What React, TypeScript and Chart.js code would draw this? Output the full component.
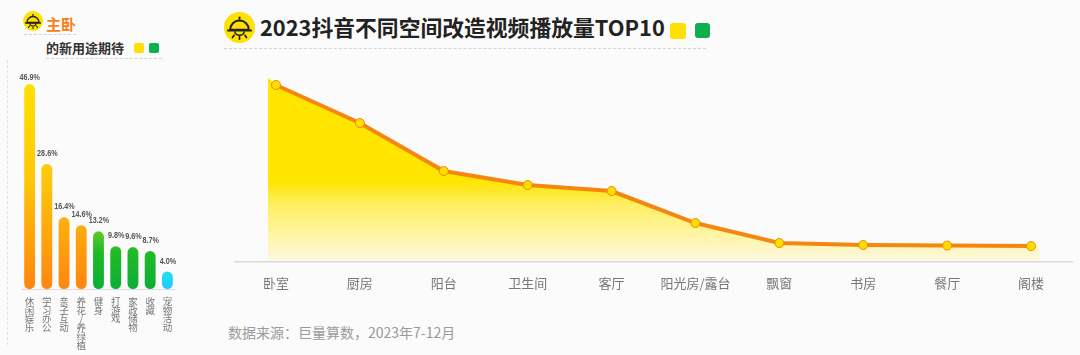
import React, { useEffect, useRef } from "react";
import { Chart, registerables } from "chart.js";

Chart.register(...registerables);

const CJK = '"Noto Sans CJK SC", "Noto Sans", sans-serif';

const useCategories = ["休闲娱乐", "学习办公", "亲子互动", "养花/养绿植", "健身", "打游戏", "家政储物", "收藏", "宠物活动"];
const useValues = [46.9, 28.6, 16.4, 14.6, 13.2, 9.8, 9.6, 8.7, 4.0];
const useGroups = ["warm", "warm", "warm", "warm", "green", "green", "green", "green", "cyan"];

const roomCategories = ["卧室", "厨房", "阳台", "卫生间", "客厅", "阳光房/露台", "飘窗", "书房", "餐厅", "阁楼"];
const roomValues = [100, 78.5, 51.4, 43.5, 40.1, 22, 10.7, 9.6, 9.3, 9];
const areaStart = { x: -0.095, y: 104 };
const areaEnd = { x: 9.1, y: 9 };

const valueLabelPlugin = {
  id: "valueLabels",
  afterDatasetsDraw(chart: any) {
    const { ctx } = chart;
    const meta = chart.getDatasetMeta(0);
    ctx.font = 'bold 9.5px "Liberation Sans", sans-serif';
    ctx.fillStyle = "#555";
    ctx.textAlign = "center";
    ctx.textBaseline = "middle";
    meta.data.forEach((bar: any, i: number) => {
      const lift = i === 0 ? 7 : 10.5;
      ctx.save();
      ctx.translate(bar.x + (i === 0 ? 0 : 0.5), bar.y - lift);
      ctx.scale(0.76, 1);
      ctx.fillText(useValues[i].toFixed(1) + "%", 0, 0);
      ctx.restore();
    });
  },
};

function barFill(c: any) {
  const { chart, dataIndex } = c;
  const area = chart.chartArea;
  if (!area) return "#FFC000";
  const y = chart.scales.y;
  const group = useGroups[dataIndex];
  if (group === "warm") {
    const g = chart.ctx.createLinearGradient(0, y.getPixelForValue(46.9), 0, y.getPixelForValue(0));
    g.addColorStop(0, "#FFE000");
    g.addColorStop(0.45, "#FFC80A");
    g.addColorStop(1, "#FF850F");
    return g;
  }
  if (group === "green") {
    const g = chart.ctx.createLinearGradient(0, y.getPixelForValue(13.2), 0, y.getPixelForValue(0));
    g.addColorStop(0, "#62C82A");
    g.addColorStop(0.35, "#22BA25");
    g.addColorStop(1, "#0CAE35");
    return g;
  }
  const g = chart.ctx.createLinearGradient(0, y.getPixelForValue(4), 0, y.getPixelForValue(0));
  g.addColorStop(0, "#22E0EE");
  g.addColorStop(1, "#1FC8FF");
  return g;
}

function areaFill(c: any) {
  const { chart } = c;
  const a = chart.chartArea;
  if (!a) return "#FFE500";
  const g = chart.ctx.createLinearGradient(0, a.top, 0, a.bottom);
  g.addColorStop(0, "#FFE500");
  g.addColorStop(0.6, "#FFE500");
  g.addColorStop(0.72, "#FFEF66");
  g.addColorStop(0.87, "#FFF5A5");
  g.addColorStop(1, "#FBF8E2");
  return g;
}

function Lamp({ x, y, size }: { x: number; y: number; size: number }) {
  return (
    <svg
      width={size}
      height={size}
      viewBox="0 0 40 40"
      style={{ position: "absolute", left: x, top: y }}
    >
      <circle cx="20" cy="20" r="20" fill="#FFE100" />
      <path d="M20 6v4" stroke="#222" strokeWidth="2.4" />
      <path d="M8 23a12 12 0 0 1 24 0z" fill="none" stroke="#222" strokeWidth="2.6" strokeLinejoin="round" />
      <path d="M5 24h30" stroke="#222" strokeWidth="2.6" strokeLinecap="round" />
      <path d="M14 25a6 5 0 0 0 12 0" fill="none" stroke="#222" strokeWidth="2.2" />
      <path d="M20 32v3M13 30l-2 3M27 30l2 3" stroke="#222" strokeWidth="2.2" strokeLinecap="round" />
    </svg>
  );
}

function Box(props: { x: number; y: number; w: number; h: number; bg: string; r?: number }) {
  return (
    <div
      style={{
        position: "absolute",
        left: props.x,
        top: props.y,
        width: props.w,
        height: props.h,
        background: props.bg,
        borderRadius: props.r ?? 2,
      }}
    />
  );
}

function Dash(props: { x: number; y: number; w: number; color?: string }) {
  return (
    <div
      style={{
        position: "absolute",
        left: props.x,
        top: props.y,
        width: props.w,
        height: 0,
        borderTop: `1px dashed ${props.color ?? "#d4d4d4"}`,
      }}
    />
  );
}

function Label(props: { x: number; y: number; size: number; color: string; weight?: number; text: string }) {
  return (
    <div
      style={{
        position: "absolute",
        left: props.x,
        top: props.y,
        fontFamily: CJK,
        fontSize: props.size,
        fontWeight: props.weight ?? 400,
        color: props.color,
        lineHeight: "1",
        whiteSpace: "nowrap",
      }}
    >
      {props.text}
    </div>
  );
}

export default function App() {
  const leftRef = useRef<HTMLCanvasElement>(null);
  const rightRef = useRef<HTMLCanvasElement>(null);

  useEffect(() => {
    const left = new Chart(leftRef.current as HTMLCanvasElement, {
      type: "bar",
      data: {
        labels: useCategories,
        datasets: [
          {
            data: useValues,
            backgroundColor: barFill,
            borderRadius: 6,
            borderSkipped: false,
            barPercentage: 0.63,
            categoryPercentage: 1,
          },
        ],
      },
      options: {
        animation: false,
        responsive: false,
        maintainAspectRatio: false,
        layout: { padding: { left: 8, right: 0, top: 0, bottom: 0 }, autoPadding: false },
        plugins: { legend: { display: false }, tooltip: { enabled: false } },
        scales: {
          x: {
            grid: { display: false, drawTicks: false },
            border: { color: "#dddddd" },
            afterFit(s: any) {
              s.height = 61;
              s.paddingLeft = 0;
              s.paddingRight = 0;
            },
            ticks: {
              autoSkip: false,
              maxRotation: 0,
              minRotation: 0,
              padding: 8,
              color: "#777",
              font: { family: CJK, size: 9.5, lineHeight: 0.92 },
              callback(v: any) {
                return Array.from(useCategories[v as number]);
              },
            },
          },
          y: { display: false, min: 0, max: 51.26 },
        },
      },
      plugins: [valueLabelPlugin],
    } as any);

    const right = new Chart(rightRef.current as HTMLCanvasElement, {
      type: "line",
      data: {
        datasets: [
          {
            data: roomValues.map((y, x) => ({ x, y })),
            borderColor: "#F58710",
            borderWidth: 4,
            pointRadius: 4.5,
            pointBorderWidth: 1,
            pointBackgroundColor: "#FFDD00",
            pointBorderColor: "#F08A00",
            tension: 0,
            fill: false,
            order: 0,
          },
          {
            data: [areaStart, ...roomValues.map((y, x) => ({ x, y })), areaEnd],
            borderWidth: 0,
            pointRadius: 0,
            tension: 0,
            fill: { value: 1 },
            backgroundColor: areaFill,
            order: 1,
          },
        ],
      },
      options: {
        animation: false,
        responsive: false,
        maintainAspectRatio: false,
        layout: { padding: 0, autoPadding: false },
        plugins: { legend: { display: false }, tooltip: { enabled: false } },
        scales: {
          x: {
            type: "linear",
            min: -0.5,
            max: 9.5,
            grid: { display: false, drawTicks: false },
            border: { color: "#dcdcdc", width: 1.5 },
            afterBuildTicks(s: any) {
              s.ticks = roomCategories.map((_, i) => ({ value: i }));
            },
            afterFit(s: any) {
              s.height = 34;
              s.paddingLeft = 0;
              s.paddingRight = 0;
            },
            ticks: {
              autoSkip: false,
              maxRotation: 0,
              minRotation: 0,
              padding: 13,
              color: "#777",
              font: { family: CJK, size: 13 },
              callback(v: any) {
                return roomCategories[v as number];
              },
            },
          },
          y: { display: false, min: 0, max: 114.1 },
        },
      },
    } as any);

    return () => {
      left.destroy();
      right.destroy();
    };
  }, []);

  return (
    <div style={{ position: "absolute", left: 0, top: 0, width: 1080, height: 355, background: "#FBFBFB", overflow: "hidden" }}>
      <div style={{ position: "absolute", left: 7, top: 60, height: 285, width: 0, borderLeft: "1px dashed #e2e2e2" }} />

      <Lamp x={23} y={11} size={20} />
      <Label x={46} y={16} size={15} weight={700} color="#F58220" text="主卧" />
      <Dash x={24} y={34} w={52} />
      <Label x={46} y={41} size={13} weight={700} color="#333" text="的新用途期待" />
      <Box x={134} y={43} w={10} h={10} bg="#FFE000" />
      <Box x={149} y={43} w={10} h={10} bg="#0DB14B" />
      <Dash x={46} y={58} w={116} />

      <Lamp x={224} y={12} size={31} />
      <Label x={260} y={16} size={21.8} weight={700} color="#222" text="2023抖音不同空间改造视频播放量TOP10" />
      <Box x={670} y={23} w={16} h={16} bg="#FFE000" r={3} />
      <Box x={695} y={23} w={15} h={15} bg="#0DB14B" r={3} />
      <Dash x={224} y={48} w={482} />

      <Label x={228} y={325} size={14} color="#9a9a9a" text={"数据来源\uFF1A巨量算数\uFF0C2023年7-12月"} />

      <canvas ref={leftRef} width={163} height={285} style={{ position: "absolute", left: 13, top: 65, width: 163, height: 285 }} />
      <canvas ref={rightRef} width={839} height={236} style={{ position: "absolute", left: 234, top: 60, width: 839, height: 236 }} />
    </div>
  );
}
